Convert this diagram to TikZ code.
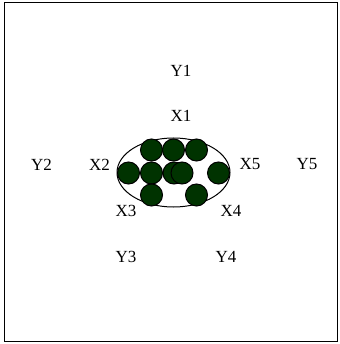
\documentclass[tikz,border=0pt]{standalone}
\usepackage{fontspec}
\setmainfont{Liberation Serif}
\usepackage{xcolor}
\usetikzlibrary{shapes.geometric}
\definecolor{dotgreen}{RGB}{0,51,0}

\begin{document}
\begin{tikzpicture}[x=1pt, y=-1pt,
  every node/.style={font=\fontsize{17}{20}\selectfont, inner sep=0pt},
  dot/.style={circle, draw, line width=1pt, fill=dotgreen, minimum size=22pt}]
\useasboundingbox (0,0) rectangle (339,344);
\draw[line width=1pt] (4,3) rectangle (337.5,341.5);

% the cluster
\node[ellipse, draw, line width=1pt, minimum width=113pt, minimum height=69pt] (blob) at (173.5,172.5) {};
\foreach \name/\x/\y in {a/151.5/150, b/173.5/150, c/196.5/150,
                         d/128.5/173, e/151.5/173, f/174/173, g/182/173, h/218.5/173,
                         i/151.5/195, j/196.5/195}
  \node[dot] (\name) at (\x,\y) {};

% labels
\node (y1) at (181,71) {Y1};
\node (x1) at (181,116) {X1};
\node (y2) at (41.5,164.5) {Y2};
\node (x2) at (99.5,164.5) {X2};
\node (x5) at (250,164.5) {X5};
\node (y5) at (307,164.5) {Y5};
\node (x3) at (126,211) {X3};
\node (x4) at (231,211) {X4};
\node (y3) at (126,257) {Y3};
\node (y4) at (226,257) {Y4};
\end{tikzpicture}
\end{document}
